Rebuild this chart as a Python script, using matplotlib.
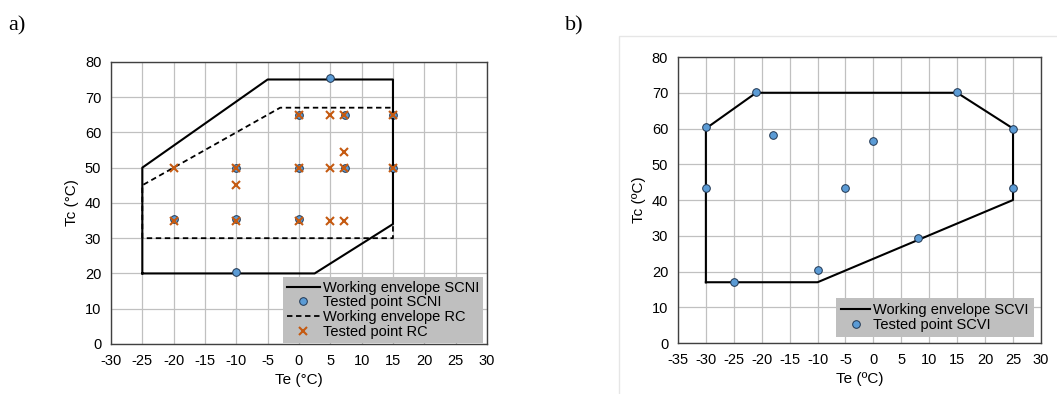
import matplotlib.pyplot as plt
from matplotlib.patches import Rectangle

plt.rcParams['font.family'] = ['Liberation Sans', 'DejaVu Sans']
plt.rcParams['axes.unicode_minus'] = False

# panel a) - SCNI and RC envelopes
scni_env_te = [-25, -25, -5, 15, 15, 2.5, -25]
scni_env_tc = [20, 50, 75, 75, 34, 20, 20]
rc_env_te = [-25, -25, -3, 15, 15, -25]
rc_env_tc = [30, 45, 67, 67, 30, 30]

scni_pts_te = [5, 0, 7.3, 15, -10, 0, 7.3, 15, -20, -10, 0, -10]
scni_pts_tc = [75.3, 65, 65, 65, 50, 50, 50, 50, 35.5, 35.5, 35.5, 20.3]
rc_pts_te = [0, 5, 7.2, 15, 7.2, -20, -10, 0, 5, 7.2, 15, -10, -20, -10, 0, 5, 7.2]
rc_pts_tc = [65, 65, 65, 65, 54.5, 50, 50, 50, 50, 50, 50, 45, 35, 35, 35, 35, 35]

# panel b) - SCVI envelope
scvi_env_te = [-30, -30, -21, 15, 25, 25, -10, -30]
scvi_env_tc = [17, 60, 70, 70, 60, 40, 17, 17]
scvi_pts_te = [-30, -21, 15, 25, -30, 25, -18, 0, -5, -25, -10, 8]
scvi_pts_tc = [60.3, 70.3, 70.3, 60, 43.5, 43.5, 58.3, 56.5, 43.5, 17, 20.3, 29.3]

BLUE = '#5b9bd5'
ORANGE = '#c55a11'
GRID = '#c0c0c0'


def style_axes(ax, xmin, xmax):
    ax.set_xlim(xmin, xmax)
    ax.set_ylim(0, 80)
    ax.set_xticks(range(xmin, xmax + 1, 5))
    ax.set_yticks(range(0, 81, 10))
    ax.grid(True, color=GRID, linewidth=0.9)
    ax.set_axisbelow(True)
    ax.tick_params(length=0, labelsize=10.5, pad=7)
    for s in ax.spines.values():
        s.set_color('#404040')
        s.set_linewidth(1.0)


fig = plt.figure(figsize=(10.57, 3.94), dpi=100)

# ---- a)
ax1 = fig.add_axes([0.105, 0.127, 0.3557, 0.716])
style_axes(ax1, -30, 30)
ax1.plot(scni_env_te, scni_env_tc, color='black', lw=1.5, label='Working envelope SCNI')
ax1.plot(scni_pts_te, scni_pts_tc, 'o', color=BLUE, mec='#1f3550', mew=0.7, ms=5.5,
         label='Tested point SCNI')
ax1.plot(rc_env_te, rc_env_tc, color='black', lw=1.3, ls=(0, (3, 2)), label='Working envelope RC')
ax1.plot(rc_pts_te, rc_pts_tc, 'x', color=ORANGE, mew=1.5, ms=6, label='Tested point RC')
ax1.set_xlabel('Te (°C)', fontsize=11, labelpad=4)
ax1.set_ylabel('Tc (°C)', fontsize=11, labelpad=4)
leg1 = ax1.legend(loc='lower right', bbox_to_anchor=(0.99, 0.005), borderaxespad=0,
                  fontsize=10.5, frameon=True, fancybox=False, framealpha=1,
                  handlelength=2.3, handletextpad=0.2, labelspacing=0.05,
                  borderpad=0.25)
leg1.get_frame().set_facecolor('#bfbfbf')
leg1.get_frame().set_edgecolor('none')

# ---- b)
ax2 = fig.add_axes([0.6414, 0.1294, 0.3434, 0.7259])
style_axes(ax2, -35, 30)
ax2.plot(scvi_env_te, scvi_env_tc, color='black', lw=1.5, label='Working envelope SCVI')
ax2.plot(scvi_pts_te, scvi_pts_tc, 'o', color=BLUE, mec='#1f3550', mew=0.7, ms=5.5,
         label='Tested point SCVI')
ax2.set_xlabel('Te (ºC)', fontsize=11, labelpad=4)
ax2.set_ylabel('Tc (ºC)', fontsize=11, labelpad=4)
leg2 = ax2.legend(loc='lower right', bbox_to_anchor=(0.98, 0.02), borderaxespad=0,
                  fontsize=10.5, frameon=True, fancybox=False, framealpha=1,
                  handlelength=2.0, handletextpad=0.2, labelspacing=0.1,
                  borderpad=0.35)
leg2.get_frame().set_facecolor('#bfbfbf')
leg2.get_frame().set_edgecolor('none')

# light frame around chart b)
fig.patches.append(Rectangle((619 / 1057, -0.01), 0.5, 1 - 35.5 / 394 + 0.01,
                             transform=fig.transFigure, fill=False,
                             edgecolor='#e6e6e6', linewidth=1.0))

fig.text(8 / 1057, 1 - 30 / 394, 'a)', fontsize=16, family='Liberation Serif')
fig.text(565 / 1057, 1 - 30 / 394, 'b)', fontsize=16, family='Liberation Serif')

fig.savefig('out.png', dpi=100)
